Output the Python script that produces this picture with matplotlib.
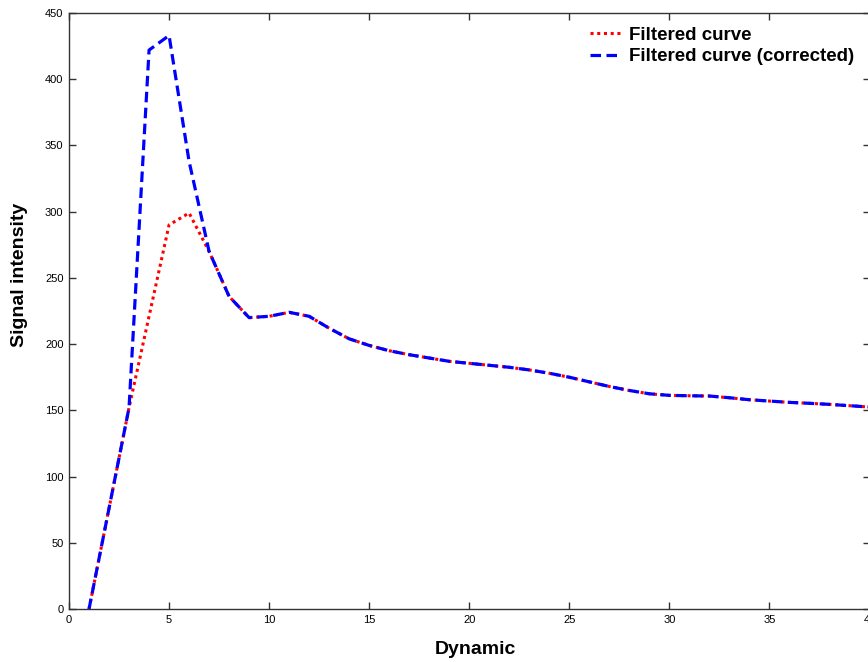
import matplotlib
matplotlib.use("Agg")
from matplotlib import pyplot as plt

# dynamic index (x) and signal intensity for both curves
dynamics = list(range(1, 41))

filtered = [0, 76, 152, 221, 290, 299, 270, 236, 220, 221,
            224, 221, 212, 204, 199, 195, 192, 189.5, 187, 185.5,
            184, 182.5, 180.5, 178, 175, 171.5, 168, 165, 162.5, 161.3,
            161, 160.8, 159.5, 158, 157, 156, 155.3, 154.5, 153.5, 152.5]

corrected = [0, 76, 152, 422, 433, 338, 270, 236, 220, 221,
             224, 221, 212, 204, 199, 195, 192, 189.5, 187, 185.5,
             184, 182.5, 180.5, 178, 175, 171.5, 168, 165, 162.5, 161.3,
             161, 160.8, 159.5, 158, 157, 156, 155.3, 154.5, 153.5, 152.5]

plt.rcParams['font.family'] = ['Liberation Sans', 'DejaVu Sans']

W, H = 868, 662
fig = plt.figure(figsize=(W / 100, H / 100), dpi=100)
ax = fig.add_axes([69 / W, (H - 609) / H, (869.5 - 69) / W, 596 / H])

ax.plot(dynamics, filtered, color='#ff0000', linestyle=(0, (1, 1.2)),
        linewidth=2.2, label='Filtered curve')
ax.plot(dynamics, corrected, color='#0000ff', linestyle=(0, (3.3, 1.7)),
        linewidth=2.3, label='Filtered curve (corrected)')

ax.set_xlim(0, 40)
ax.set_ylim(0, 450)
ax.set_xticks(range(0, 41, 5))
ax.set_yticks(range(0, 451, 50))
ax.tick_params(direction='in', top=True, right=True, length=5, width=1,
               labelsize=8, color='#333333', pad=4)
for s in ax.spines.values():
    s.set_color('#333333')
    s.set_linewidth(1)

ax.set_xlabel('Dynamic', fontsize=14, fontweight='bold')
ax.set_ylabel('Signal intensity', fontsize=14, fontweight='bold')
ax.xaxis.set_label_coords((475 - 69) / 800.5, -(650 - 609) / 596, transform=ax.transAxes)
ax.yaxis.set_label_coords(-(69 - 20) / 800.5, (609 - 275) / 596, transform=ax.transAxes)
ax.xaxis.label.set_va('center')
ax.yaxis.label.set_va('center')

ax.legend(loc='upper left', bbox_to_anchor=(581 / W, 1 - 17 / H),
          bbox_transform=fig.transFigure, frameon=False, borderpad=0,
          handlelength=1.6, handletextpad=0.45, labelspacing=0.25,
          prop={'size': 13.5, 'weight': 'bold'})

fig.savefig('out.png', dpi=100)
